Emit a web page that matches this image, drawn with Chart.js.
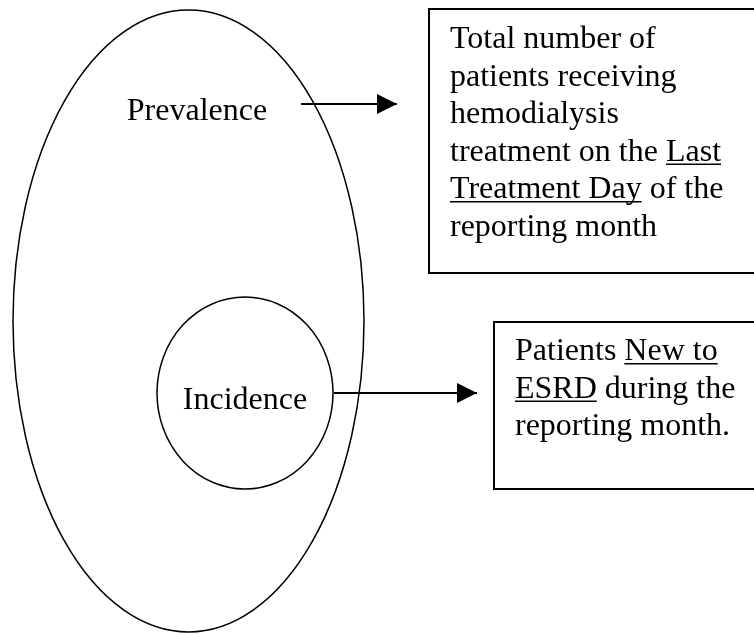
<!DOCTYPE html>
<html lang="en">
<head>
    <meta charset="UTF-8">
    <title>Prevalence and Incidence</title>
    <script src="https://cdn.jsdelivr.net/npm/chart.js"></script>
    <style>
        html, body { margin: 0; padding: 0; background: #fff; }
        #wrap { width: 754px; height: 634px; }
    </style>
</head>
<body>
    <div id="wrap"><canvas id="diagram" width="754" height="634"></canvas></div>

    <script>
        // ovals (in diagram units, y grows downward)
        const ovalNames = ['Prevalence', 'Incidence'];
        const ovalCx = [188.5, 245];
        const ovalCy = [321, 393];
        const ovalRx = [175.5, 88];
        const ovalRy = [311, 96];
        const labelX = [197, 245];
        const labelY = [120, 409];

        // arrows from the ovals to the boxes
        const arrowFromX = [301, 334];
        const arrowToX = [397, 477];
        const arrowY = [104, 393];

        // description boxes
        const boxLeft = [429, 494];
        const boxTop = [9, 322];
        const boxBottom = [273, 489];
        const textLeft = [450, 515];
        const firstBaseline = [48, 360];
        const lineGap = [37.5, 37.5];
        // each line is a list of [text, underlined]
        const boxLines = [
            [
                [['Total number of', false]],
                [['patients receiving', false]],
                [['hemodialysis', false]],
                [['treatment on the ', false], ['Last', true]],
                [['Treatment Day', true], [' of the', false]],
                [['reporting month', false]]
            ],
            [
                [['Patients ', false], ['New to', true]],
                [['ESRD', true], [' during the', false]],
                [['reporting month.', false]]
            ]
        ];

        const FONT = '32px "Liberation Serif", "Times New Roman", serif';

        const diagramPlugin = {
            id: 'diagram',
            afterDatasetsDraw(chart) {
                const ctx = chart.ctx;
                const xs = chart.scales.x, ys = chart.scales.y;
                const px = v => xs.getPixelForValue(v);
                const py = v => ys.getPixelForValue(v);
                ctx.save();
                ctx.strokeStyle = '#000';
                ctx.fillStyle = '#000';

                // ovals + labels
                ctx.lineWidth = 1.5;
                ovalNames.forEach((name, i) => {
                    const cx = px(ovalCx[i]), cy = py(ovalCy[i]);
                    const rx = Math.abs(px(ovalCx[i] + ovalRx[i]) - cx);
                    const ry = Math.abs(py(ovalCy[i] + ovalRy[i]) - cy);
                    ctx.beginPath();
                    ctx.ellipse(cx, cy, rx, ry, 0, 0, Math.PI * 2);
                    ctx.stroke();
                    ctx.font = FONT;
                    ctx.textAlign = 'center';
                    ctx.textBaseline = 'alphabetic';
                    ctx.fillText(name, px(labelX[i]), py(labelY[i]));
                });

                // arrow heads at the end of each arrow dataset
                chart.data.datasets.forEach((ds, i) => {
                    const pts = chart.getDatasetMeta(i).data;
                    const tip = pts[pts.length - 1];
                    ctx.beginPath();
                    ctx.moveTo(tip.x, tip.y);
                    ctx.lineTo(tip.x - 20, tip.y - 10);
                    ctx.lineTo(tip.x - 20, tip.y + 10);
                    ctx.closePath();
                    ctx.fill();
                });

                // boxes
                boxLines.forEach((lines, b) => {
                    const x0 = px(boxLeft[b]), y0 = py(boxTop[b]);
                    const y1 = py(boxBottom[b]);
                    ctx.lineWidth = 2;
                    ctx.strokeRect(x0, y0, chart.width + 5 - x0, y1 - y0);

                    ctx.font = FONT;
                    ctx.textAlign = 'left';
                    ctx.textBaseline = 'alphabetic';
                    lines.forEach((segs, l) => {
                        let x = px(textLeft[b]);
                        const y = py(firstBaseline[b] + l * lineGap[b]);
                        segs.forEach(([txt, under]) => {
                            ctx.fillText(txt, x, y);
                            const w = ctx.measureText(txt).width;
                            if (under) {
                                ctx.fillRect(x, y + 3, w, 1.5);
                            }
                            x += w;
                        });
                    });
                });
                ctx.restore();
            }
        };

        const arrowSets = arrowY.map((y, i) => ({
            label: ovalNames[i],
            data: [{ x: arrowFromX[i], y: y }, { x: arrowToX[i] - 12, y: y }, { x: arrowToX[i], y: y }],
            showLine: true,
            borderColor: '#000',
            borderWidth: 2,
            pointRadius: 0,
            fill: false
        }));

        new Chart(document.getElementById('diagram').getContext('2d'), {
            type: 'scatter',
            data: { datasets: arrowSets },
            options: {
                responsive: false,
                animation: false,
                layout: { padding: 0 },
                plugins: { legend: { display: false }, tooltip: { enabled: false } },
                scales: {
                    x: { type: 'linear', min: 0, max: 754, display: false },
                    y: { type: 'linear', min: 0, max: 634, reverse: true, display: false }
                }
            },
            plugins: [diagramPlugin]
        });
    </script>
</body>
</html>
